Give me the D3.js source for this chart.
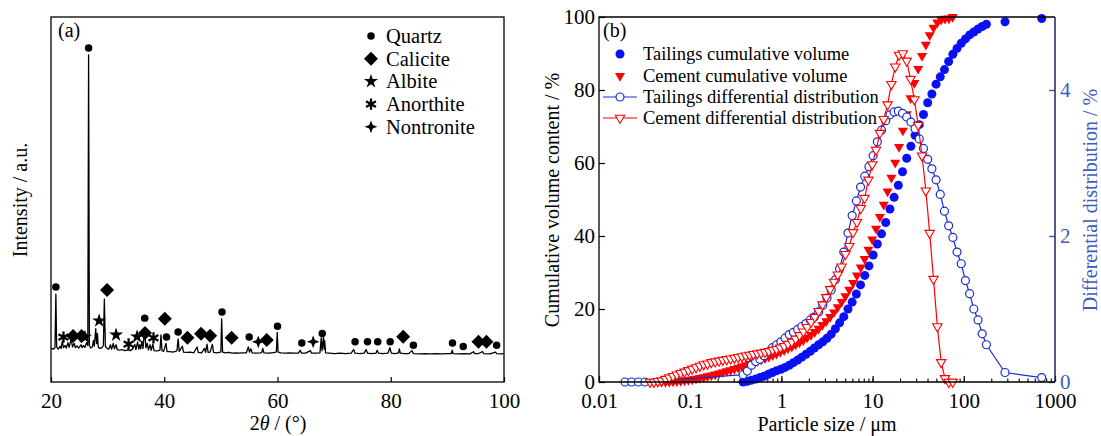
<!DOCTYPE html>
<html>
<head>
<meta charset="utf-8">
<script src="https://cdn.jsdelivr.net/npm/d3@7"></script>
<style>
body { margin: 0; background: #fff; }
svg { font-family: "Liberation Serif", "Times New Roman", serif; }
</style>
</head>
<body>
<div class="chart"></div>
<script>
// ---------- (a) XRD pattern, [2theta, intensity a.u.] ----------
const xrdTrace = [
  [20.0,9.3],[20.4,9.0],[20.7,9.4],[20.86,24.1],[21.0,9.6],[21.3,9.0],[21.6,9.8],[21.8,9.2],[22.0,11.2],[22.2,9.4],
  [22.5,10.0],[22.7,9.3],[23.0,10.8],[23.2,9.5],[23.55,11.8],[23.8,9.6],[24.1,10.6],[24.3,9.4],[24.6,9.9],[24.9,9.3],
  [25.3,10.2],[25.5,9.4],[25.7,10.0],[26.0,9.5],[26.3,10.8],[26.5,10.0],[26.64,89.6],[26.78,10.0],[27.0,9.3],[27.3,9.6],
  [27.5,11.4],[27.65,9.8],[27.9,14.6],[28.05,10.5],[28.2,13.3],[28.35,9.5],[28.7,9.2],[29.0,9.4],[29.25,10.0],[29.42,22.7],
  [29.6,9.8],[29.9,9.2],[30.2,9.0],[30.5,10.2],[30.7,9.0],[31.0,10.6],[31.2,9.1],[31.5,10.2],[31.7,8.9],[32.1,8.7],
  [32.5,8.9],[33.0,8.6],[33.5,8.8],[34.0,8.6],[34.4,9.0],[34.8,10.3],[35.0,8.9],[35.3,11.0],[35.5,9.0],[35.7,10.2],
  [35.85,9.1],[36.05,11.2],[36.25,9.2],[36.55,14.5],[36.75,9.4],[37.0,10.6],[37.2,8.8],[37.5,10.2],[37.7,8.7],[38.0,10.4],
  [38.2,8.6],[38.6,8.5],[39.0,8.6],[39.25,8.8],[39.42,12.9],[39.6,8.6],[39.9,8.4],[40.3,10.6],[40.5,8.3],[41.0,8.3],
  [41.5,8.2],[42.0,8.4],[42.25,8.6],[42.45,11.8],[42.65,8.4],[43.2,9.8],[43.4,8.2],[44.0,8.1],[44.6,8.2],[45.2,8.0],
  [45.8,9.6],[46.0,8.1],[46.6,8.0],[47.1,9.2],[47.3,8.1],[47.55,10.4],[47.75,8.1],[48.1,8.2],[48.5,10.3],[48.7,8.1],
  [49.2,8.0],[49.8,8.1],[50.0,8.3],[50.14,17.3],[50.3,8.2],[50.8,8.0],[51.4,8.1],[52.0,7.9],[52.6,8.0],[53.2,7.9],
  [53.8,8.0],[54.5,8.0],[54.85,9.6],[55.05,8.2],[55.3,9.1],[55.5,8.0],[56.2,7.9],[57.0,8.0],[57.25,8.2],[57.4,9.2],
  [57.6,8.0],[58.3,7.9],[59.0,8.0],[59.6,8.1],[59.8,8.3],[59.95,13.6],[60.1,8.2],[60.6,8.0],[61.4,7.9],[62.2,8.0],
  [63.0,7.9],[63.7,7.9],[64.0,8.7],[64.25,7.9],[65.0,7.9],[65.8,8.6],[66.0,7.9],[66.8,7.9],[67.5,8.0],[67.72,12.1],
  [67.85,8.6],[68.12,12.4],[68.22,9.0],[68.32,11.4],[68.5,8.0],[69.2,7.9],[70.0,7.8],[71.0,7.9],[72.0,7.8],[73.0,7.9],
  [73.45,8.9],[73.7,7.9],[74.5,7.8],[75.3,7.9],[75.65,8.9],[75.9,7.9],[76.6,7.8],[77.4,7.9],[77.6,8.7],[77.85,7.9],
  [78.6,7.8],[79.5,7.9],[79.85,9.4],[80.1,7.9],[80.8,7.8],[81.4,8.0],[81.5,9.1],[81.7,7.9],[82.4,7.8],[83.2,7.8],
  [83.75,8.6],[84.0,7.8],[85.0,7.7],[86.0,7.8],[87.0,7.7],[88.0,7.8],[89.0,7.7],[90.0,7.8],[90.7,7.8],[90.85,8.7],
  [91.0,7.8],[92.0,7.7],[93.0,7.8],[94.0,7.7],[94.6,8.3],[94.8,7.8],[95.5,7.8],[96.2,8.3],[96.4,7.8],[97.5,7.7],
  [98.5,8.2],[98.7,7.8],[99.5,7.7],[100,7.8]
];
// phase markers [2theta, marker height]
const quartzPeaks = [[20.86,26.0],[26.64,91.5],[36.55,17.5],[40.4,12.3],[42.45,13.7],[50.2,19.2],[55.0,12.3],[60.0,15.3],
  [64.3,10.7],[67.9,13.3],[73.7,11.0],[75.9,11.0],[77.7,11.0],[79.9,11.0],[84.0,10.1],[90.9,10.7],[92.8,9.7],[98.7,10.1]];
const calcitePeaks = [[23.9,12.6],[25.4,12.6],[29.9,25.2],[36.6,13.4],[40.1,17.3],[44.1,12.1],[46.5,13.2],[48.1,12.7],
  [51.9,12.1],[58.1,11.5],[82.2,12.4],[95.5,11.0],[96.9,11.0]];
const albitePeaks = [[26.0,12.3],[28.5,16.8],[31.5,12.9],[35.2,12.4]];
const anorthitePeaks = [[22.2,12.3],[33.7,10.4],[38.1,12.1]];
const nontronitePeaks = [[56.6,11.0],[66.3,11.0]];
const phaseNames = ["Quartz","Calicite","Albite","Anorthite","Nontronite"];
const xrdTicks = [20,40,60,80,100];

// ---------- (b) particle size distribution ----------
const tailSize = [0.0193,0.0228,0.027,0.0319,
  0.380,0.423,0.470,0.522,0.581,0.646,0.718,0.798,0.887,0.986,1.096,1.219,1.355,1.507,1.675,1.862,2.070,2.301,2.559,2.844,
  3.162,3.516,3.908,4.345,4.831,5.370,5.970,6.637,7.379,8.204,9.120,10.14,11.27,12.53,13.93,15.49,17.22,19.14,21.28,23.66,
  26.30,29.24,32.51,36.14,40.18,44.67,49.66,55.21,61.38,68.23,75.86,84.33,93.76,104.2,115.9,128.8,143.2,159.2,177.0,283,715];
const tailCum = [null,null,null,null,
  0.0,0.2,0.5,0.8,1.2,1.6,2.1,2.6,3.1,3.5,4.0,4.6,5.3,6.0,6.8,7.6,8.4,9.3,10.2,11.0,
  12.0,13.1,14.6,16.2,17.9,20.0,21.9,24.1,26.6,29.2,31.8,34.8,37.8,40.6,43.7,47.4,50.6,53.9,57.6,61.3,
  64.6,67.6,70.5,73.3,76.5,78.9,81.6,83.6,85.6,87.8,89.8,91.4,92.8,94.0,95.1,95.9,96.7,97.4,98.0,98.7,99.6];
const tailDiff = [0,0,0,0,
  0.10,0.15,0.23,0.28,0.31,0.36,0.41,0.47,0.51,0.55,0.60,0.65,0.68,0.72,0.76,0.80,0.85,0.89,0.96,1.05,
  1.15,1.26,1.40,1.55,1.78,2.04,2.28,2.48,2.67,2.82,2.95,3.10,3.29,3.45,3.58,3.66,3.70,3.71,3.68,3.63,
  3.56,3.47,3.33,3.20,3.05,2.92,2.77,2.57,2.34,2.14,1.98,1.78,1.62,1.39,1.21,1.00,0.85,0.66,0.51,0.13,0.06];
const cemSize = [0.0363,0.0400,0.0441,0.0485,0.0535,0.0589,0.0649,0.0714,0.0787,0.0867,
  0.0955,0.1052,0.1159,0.1276,0.1406,0.1549,0.1706,0.1879,0.2070,0.2280,
  0.2512,0.2767,0.3048,0.3357,0.3698,0.4074,0.4487,0.4943,0.5445,0.5998,
  0.6607,0.7278,0.8017,0.8831,0.9727,1.072,1.180,1.300,1.432,1.578,
  1.738,1.914,2.109,2.323,2.559,2.818,3.105,3.420,3.767,4.150,
  4.571,5.035,5.546,6.109,6.730,7.413,8.166,8.995,9.908,10.91,
  12.02,13.24,14.59,16.07,17.70,19.50,21.48,23.66,26.06,28.71,
  31.62,34.83,38.37,42.27,46.56,51.29,56.49,62.23,68.55,75.51];
const cemCum = [0,0,0,0.01,0.03,0.07,0.13,0.21,0.31,0.43,
  0.57,0.73,0.91,1.11,1.33,1.57,1.82,2.09,2.37,2.66,
  2.96,3.27,3.59,3.92,4.26,4.61,4.97,5.34,5.72,6.11,
  6.51,6.92,7.34,7.78,8.23,8.70,9.19,9.71,10.26,10.85,
  11.49,12.18,12.93,13.75,14.64,15.61,16.67,17.83,19.10,20.47,
  21.94,23.52,25.27,27.13,29.18,31.37,33.75,36.27,39.04,42.02,
  45.20,48.61,52.21,56.01,60.09,64.41,68.89,73.39,77.79,81.94,
  85.81,89.33,92.43,95.05,97.09,98.50,99.26,99.53,99.58,100];
const cemDiff = [0,0,0.01,0.02,0.04,0.06,0.08,0.10,0.12,0.14,
  0.16,0.18,0.20,0.22,0.24,0.25,0.27,0.28,0.29,0.30,
  0.31,0.32,0.33,0.34,0.35,0.36,0.37,0.38,0.39,0.40,
  0.41,0.42,0.44,0.45,0.47,0.49,0.52,0.55,0.59,0.64,
  0.69,0.75,0.82,0.89,0.97,1.06,1.16,1.27,1.37,1.47,
  1.58,1.75,1.86,2.05,2.19,2.38,2.52,2.77,2.98,3.18,
  3.41,3.60,3.80,4.08,4.32,4.48,4.50,4.40,4.15,3.87,
  3.52,3.10,2.62,2.04,1.41,0.76,0.27,0.05,0,0];
const psdNames = ["Tailings cumulative volume","Cement cumulative volume","Tailings differential distribution","Cement differential distribution"];
const sizeTicks = [0.01,0.1,1,10,100,1000];
const cumTicks = [0,20,40,60,80,100];
const diffTicks = [0,2,4];

const W = 1101, H = 436;
const svg = d3.select(".chart").append("svg")
    .attr("width", W)
    .attr("height", H);

// custom marks
const symAsterisk = { draw(ctx, size) {
    const r = Math.sqrt(size) / 2;
    [90, 30, 150].forEach(a => {
        const t = a * Math.PI / 180;
        ctx.moveTo(r * Math.cos(t), r * Math.sin(t));
        ctx.lineTo(-r * Math.cos(t), -r * Math.sin(t));
    });
}};
const symStar4 = { draw(ctx, size) {
    const r = Math.sqrt(size) / 2, k = r * 0.28;
    ctx.moveTo(0, -r); ctx.lineTo(k, -k); ctx.lineTo(r, 0); ctx.lineTo(k, k);
    ctx.lineTo(0, r); ctx.lineTo(-k, k); ctx.lineTo(-r, 0); ctx.lineTo(-k, -k);
    ctx.closePath();
}};

const phaseSym = [
    {type: d3.symbolCircle, size: 44, rot: 0, stroke: false},
    {type: d3.symbolSquare, size: 98, rot: 45, stroke: false},
    {type: d3.symbolStar, size: 62, rot: 0, stroke: false},
    {type: symAsterisk, size: 130, rot: 0, stroke: true},
    {type: symStar4, size: 160, rot: 0, stroke: false}
];
function drawPhase(g, s, x, y) {
    const p = g.append("path")
        .attr("d", d3.symbol().type(s.type).size(s.size)())
        .attr("transform", "translate(" + x + "," + y + ") rotate(" + s.rot + ")");
    if (s.stroke) p.attr("fill", "none").attr("stroke", "#000").attr("stroke-width", 2.3);
    else p.attr("fill", "#000");
}

// ================= panel (a) =================
const A = {left: 51, right: 504, top: 17, bottom: 382};
const xA = d3.scaleLinear().domain([20, 100]).range([A.left, A.right]);
const yA = d3.scaleLinear().domain([0, 100]).range([A.bottom, A.top]);

const ga = svg.append("g");
ga.append("g")
    .attr("transform", "translate(0," + A.bottom + ")")
    .call(d3.axisBottom(xA).tickValues(xrdTicks).tickSize(-5).tickPadding(11))
    .call(g => g.select(".domain").remove())
    .call(g => g.selectAll("text").attr("font-size", 21).attr("font-family", "Liberation Serif").attr("fill", "#000"))
    .call(g => g.selectAll("line").attr("stroke", "#000").attr("stroke-width", 1.2));

ga.append("path")
    .datum(xrdTrace)
    .attr("fill", "none")
    .attr("stroke", "#000")
    .attr("stroke-width", 1.3)
    .attr("stroke-linejoin", "round")
    .attr("d", d3.line().x(d => xA(d[0])).y(d => yA(d[1])));

[quartzPeaks, calcitePeaks, albitePeaks, anorthitePeaks, nontronitePeaks].forEach((arr, i) => {
    arr.forEach(d => drawPhase(ga, phaseSym[i], xA(d[0]), yA(d[1])));
});

ga.append("rect")
    .attr("x", A.left).attr("y", A.top)
    .attr("width", A.right - A.left).attr("height", A.bottom - A.top)
    .attr("fill", "none").attr("stroke", "#000").attr("stroke-width", 1.3);

ga.append("text").attr("x", 58).attr("y", 37).attr("font-size", 20).text("(a)");

// legend (a)
phaseNames.forEach((name, i) => {
    const cy = 36 + i * 22.7;
    drawPhase(ga, phaseSym[i], 371, cy);
    ga.append("text").attr("x", 386).attr("y", cy + 7).attr("font-size", 20.5).text(name);
});

ga.append("text")
    .attr("transform", "translate(27,200) rotate(-90)")
    .attr("text-anchor", "middle")
    .attr("font-size", 20)
    .text("Intensity / a.u.");
const xt = ga.append("text")
    .attr("x", 278).attr("y", 430)
    .attr("text-anchor", "middle")
    .attr("font-size", 20);
xt.append("tspan").text("2");
xt.append("tspan").attr("font-style", "italic").text("θ");
xt.append("tspan").text(" / (°)");

// ================= panel (b) =================
const B = {left: 599, right: 1055, top: 17, bottom: 382};
const xB = d3.scaleLog().domain([0.01, 1000]).range([B.left, B.right]);
const yB = d3.scaleLinear().domain([0, 100]).range([B.bottom, B.top]);
const yD = d3.scaleLinear().domain([0, 5]).range([B.bottom, B.top]);

const blueDot = "#0a10f5", blueLine = "#1a2cd0", red = "#ff0000";
const navy = "#1c2466", axisBlue = "#3d5cbf";

const gb = svg.append("g");

// minor + major ticks on log axis
gb.append("g")
    .attr("transform", "translate(0," + B.bottom + ")")
    .call(d3.axisBottom(xB).tickValues(xB.ticks()).tickSize(-3.5).tickFormat(""))
    .call(g => g.select(".domain").remove())
    .call(g => g.selectAll("line").attr("stroke", "#000").attr("stroke-width", 1.1));
gb.append("g")
    .attr("transform", "translate(0," + B.bottom + ")")
    .call(d3.axisBottom(xB).tickValues(sizeTicks).tickSize(-6).tickPadding(11).tickFormat(d => d))
    .call(g => g.select(".domain").remove())
    .call(g => g.selectAll("text").attr("font-size", 21).attr("font-family", "Liberation Serif").attr("fill", "#000"))
    .call(g => g.selectAll("line").attr("stroke", "#000").attr("stroke-width", 1.2));

gb.append("g")
    .attr("transform", "translate(" + B.left + ",0)")
    .call(d3.axisLeft(yB).tickValues(cumTicks).tickSize(-6).tickPadding(4))
    .call(g => g.select(".domain").remove())
    .call(g => g.selectAll("text").attr("font-size", 21).attr("font-family", "Liberation Serif").attr("fill", "#000"))
    .call(g => g.selectAll("line").attr("stroke", "#000").attr("stroke-width", 1.2));

gb.append("g")
    .attr("transform", "translate(" + B.right + ",0)")
    .call(d3.axisRight(yD).tickValues(diffTicks).tickSize(-6).tickPadding(5).tickFormat(d => d))
    .call(g => g.select(".domain").remove())
    .call(g => g.selectAll("text").attr("font-size", 21).attr("font-family", "Liberation Serif").attr("fill", axisBlue))
    .call(g => g.selectAll("line").attr("stroke", axisBlue).attr("stroke-width", 1.4));

const triDown = d3.symbol().type(d3.symbolTriangle);

// tailings cumulative
const tailCumPts = tailSize.map((s, i) => [s, tailCum[i]]).filter(d => d[1] !== null);
gb.append("g").selectAll("circle")
    .data(tailCumPts)
    .join("circle")
    .attr("cx", d => xB(d[0]))
    .attr("cy", d => yB(d[1]))
    .attr("r", 4.5)
    .attr("fill", blueDot);

// cement cumulative
gb.append("g").selectAll("path")
    .data(cemSize.map((s, i) => [s, cemCum[i]]))
    .join("path")
    .attr("d", triDown.size(44)())
    .attr("transform", d => "translate(" + xB(d[0]) + "," + yB(d[1]) + ") rotate(180)")
    .attr("fill", red);

// tailings differential
const tailDiffPts = tailSize.map((s, i) => [s, tailDiff[i]]);
const diffLine = d3.line().x(d => xB(d[0])).y(d => yD(d[1]));
gb.append("path")
    .datum(tailDiffPts)
    .attr("fill", "none")
    .attr("stroke", blueLine)
    .attr("stroke-width", 1.2)
    .attr("d", diffLine);
gb.append("g").selectAll("circle")
    .data(tailDiffPts)
    .join("circle")
    .attr("cx", d => xB(d[0]))
    .attr("cy", d => yD(d[1]))
    .attr("r", 4)
    .attr("fill", "#fff")
    .attr("stroke", blueLine)
    .attr("stroke-width", 1.2);

// cement differential
const cemDiffPts = cemSize.map((s, i) => [s, cemDiff[i]]);
gb.append("path")
    .datum(cemDiffPts)
    .attr("fill", "none")
    .attr("stroke", red)
    .attr("stroke-width", 1.2)
    .attr("d", diffLine);
gb.append("g").selectAll("path")
    .data(cemDiffPts)
    .join("path")
    .attr("d", triDown.size(38)())
    .attr("transform", d => "translate(" + xB(d[0]) + "," + yD(d[1]) + ") rotate(180)")
    .attr("fill", "#fff")
    .attr("stroke", red)
    .attr("stroke-width", 1.1);

// frame
gb.append("path")
    .attr("d", "M" + B.right + "," + B.top + "H" + B.left + "V" + B.bottom + "H" + B.right)
    .attr("fill", "none").attr("stroke", "#000").attr("stroke-width", 1.3);
gb.append("line")
    .attr("x1", B.right).attr("x2", B.right).attr("y1", B.top).attr("y2", B.bottom)
    .attr("stroke", navy).attr("stroke-width", 1.5);

gb.append("text").attr("x", 603).attr("y", 37).attr("font-size", 20).text("(b)");

// legend (b)
const legY = [54, 76, 97, 118];
gb.append("circle").attr("cx", 620).attr("cy", legY[0]).attr("r", 4.5).attr("fill", blueDot);
gb.append("path").attr("d", triDown.size(44)())
    .attr("transform", "translate(620," + legY[1] + ") rotate(180)").attr("fill", red);
gb.append("line").attr("x1", 603).attr("x2", 637).attr("y1", legY[2]).attr("y2", legY[2])
    .attr("stroke", blueLine).attr("stroke-width", 1.2);
gb.append("circle").attr("cx", 620).attr("cy", legY[2]).attr("r", 4)
    .attr("fill", "#fff").attr("stroke", blueLine).attr("stroke-width", 1.2);
gb.append("line").attr("x1", 603).attr("x2", 637).attr("y1", legY[3]).attr("y2", legY[3])
    .attr("stroke", red).attr("stroke-width", 1.2);
gb.append("path").attr("d", triDown.size(38)())
    .attr("transform", "translate(620," + legY[3] + ") rotate(180)")
    .attr("fill", "#fff").attr("stroke", red).attr("stroke-width", 1.1);
psdNames.forEach((name, i) => {
    gb.append("text").attr("x", 643).attr("y", legY[i] + 6).attr("font-size", 18.5).text(name);
});

gb.append("text")
    .attr("transform", "translate(559,200) rotate(-90)")
    .attr("text-anchor", "middle")
    .attr("font-size", 20)
    .text("Cumulative volume content / %");
gb.append("text")
    .attr("transform", "translate(1097,200) rotate(-90)")
    .attr("text-anchor", "middle")
    .attr("font-size", 20)
    .attr("fill", axisBlue)
    .text("Differential distribution / %");
gb.append("text")
    .attr("x", 827).attr("y", 431)
    .attr("text-anchor", "middle")
    .attr("font-size", 20)
    .text("Particle size / μm");
</script>
</body>
</html>
